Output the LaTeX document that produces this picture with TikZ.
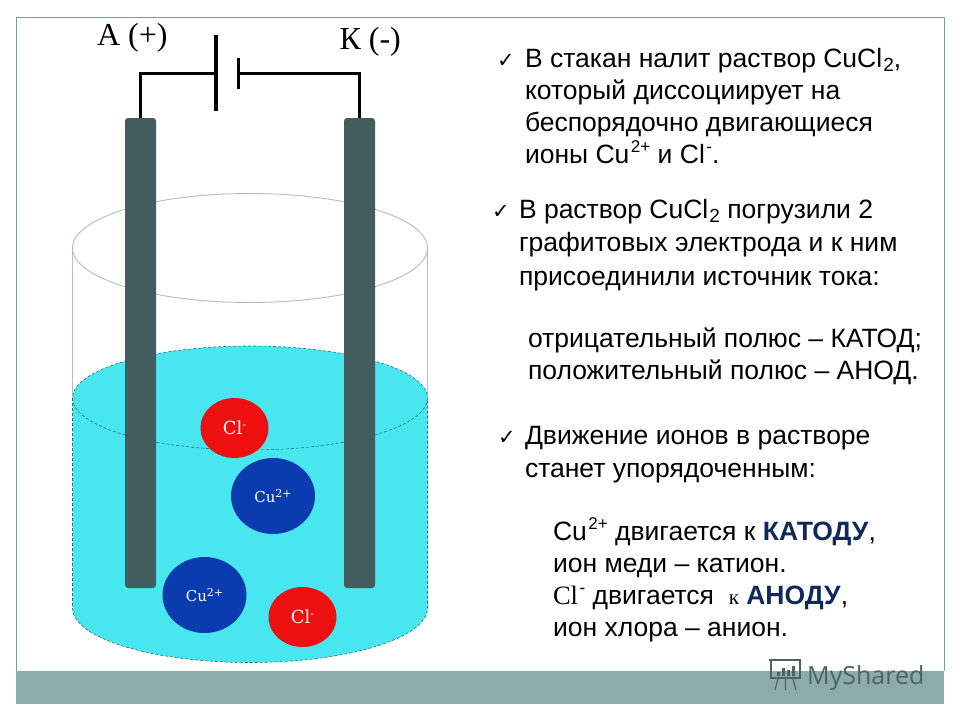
\documentclass[tikz,border=0pt]{standalone}
\usepackage{fontspec}
\setmainfont{Liberation Sans}
\newfontfamily\serifrm{Liberation Serif}
\newfontfamily\ionfont{DejaVu Serif}
\newfontfamily\tickfont{DejaVu Sans}
\newfontfamily\markfont{Open Sans}
\usetikzlibrary{shapes.geometric}
\definecolor{barc}{HTML}{8CABAB}
\definecolor{framec}{HTML}{7F9A9A}
\definecolor{water}{HTML}{48E6EE}
\definecolor{waterline}{HTML}{2F6F78}
\definecolor{elec}{HTML}{435C5E}
\definecolor{ionred}{HTML}{EE1010}
\definecolor{ionblue}{HTML}{0A3CB0}
\definecolor{navy}{HTML}{0F2A5A}
\definecolor{glass}{HTML}{B4BCBC}
\definecolor{wm}{HTML}{4F6264}
\newcommand{\upp}[1]{\kern1.5pt\raisebox{.38em}{\fontsize{17}{17}\selectfont #1}}
\newcommand{\dwn}[1]{\kern1pt\raisebox{-.18em}{\fontsize{19}{19}\selectfont #1}}
\tikzset{
  txt/.style={anchor=base west,inner sep=0pt,outer sep=0pt,text=black,font=\fontsize{26.5}{26.5}\selectfont},
  tick/.style={anchor=base west,inner sep=0pt,outer sep=0pt,text=black,font=\tickfont\bfseries\fontsize{21}{21}\selectfont},
  pole/.style={anchor=base west,inner sep=0pt,outer sep=0pt,text=black,font=\serifrm\fontsize{32}{32}\selectfont},
  electrode/.style={draw=none,fill=elec,rectangle,rounded corners=3pt,minimum width=31pt,minimum height=470pt,inner sep=0pt},
  redion/.style={ellipse,fill=ionred,text=white,minimum width=68pt,minimum height=60pt,inner sep=0pt,font=\ionfont\fontsize{18}{18}\selectfont},
  blueion/.style={ellipse,fill=ionblue,text=white,minimum width=84pt,minimum height=76pt,inner sep=0pt,font=\ionfont\fontsize{15}{15}\selectfont},
  wire/.style={draw=black,line width=3pt},
  plate/.style={draw=black,line width=3.2pt},
  glassline/.style={draw=glass,line width=.9pt},
  waterdash/.style={draw=waterline,line width=.6pt,densely dashed},
}
\begin{document}
\begin{tikzpicture}[x=1pt,y=-1pt]
\useasboundingbox (0,0) rectangle (960,720);
\fill[white] (0,0) rectangle (960,720);
% slide
\draw[framec,line width=1pt] (16.5,671) -- (16.5,17.5) -- (944,17.5) -- (944,671);
\fill[barc] (16,671) rectangle (944,704);
% water
\fill[water] (72.5,398) -- (72.5,608) arc[start angle=180,end angle=0,x radius=177.5,y radius=54.5] -- (427.5,398) -- cycle;
\fill[water] (250,398) ellipse[x radius=177.5,y radius=52];
\draw[waterdash] (250,398) ellipse[x radius=177.5,y radius=52];
\draw[waterdash] (72.5,398) -- (72.5,608) arc[start angle=180,end angle=0,x radius=177.5,y radius=54.5] -- (427.5,398);
% glass
\draw[glassline] (250,248) ellipse[x radius=177.5,y radius=54.5];
\draw[glassline] (72.5,248) -- (72.5,398) (427.5,248) -- (427.5,398);
% electrodes
\node[electrode] (anode) at (140.5,353) {};
\node[electrode] (cathode) at (359.5,353) {};
% battery
\coordinate (plA) at (216,73);
\coordinate (plAt) at (216,35);
\coordinate (plAb) at (216,111);
\coordinate (plK) at (238.5,73);
\coordinate (plKt) at (238.5,58);
\coordinate (plKb) at (238.5,89);
\draw[plate] (plAt) -- (plAb);
\draw[plate] (plKt) -- (plKb);
\draw[wire] (anode.north) |- (plA);
\draw[wire] (cathode.north) |- (plK);
% ions
\node[redion] (cl1) at (234.5,428) {Cl\raisebox{.35em}{\fontsize{11}{11}\selectfont -}};
\node[blueion] (cu1) at (273,496) {Cu\raisebox{.35em}{\fontsize{11}{11}\selectfont 2+}};
\node[blueion] (cu2) at (204.5,595) {Cu\raisebox{.35em}{\fontsize{11}{11}\selectfont 2+}};
\node[redion] (cl2) at (302.5,617) {Cl\raisebox{.35em}{\fontsize{11}{11}\selectfont -}};
% poles
\node[pole] (lA) at (97,45) {А (+)};
\node[pole] (lK) at (339.5,49) {К (-)};
% text block 1
\node[tick] (t1) at (497,67) {✓};
\node[txt] (a1) at (525,67) {В стакан налит раствор CuCl\dwn{2},};
\node[txt] (a2) at (525,99) {который диссоциирует на};
\node[txt] (a3) at (525,131) {беспорядочно двигающиеся};
\node[txt] (a4) at (525,163) {ионы Cu\upp{2+} и Cl\upp{-}.};
% text block 2
\node[tick] (t2) at (492,218) {✓};
\node[txt] (b1) at (519,218) {В раствор CuCl\dwn{2} погрузили 2};
\node[txt] (b2) at (519,251) {графитовых электрода и к ним};
\node[txt] (b3) at (519,285) {присоединили источник тока:};
\node[txt] (c1) at (528,347) {отрицательный полюс – КАТОД;};
\node[txt] (c2) at (528,379) {положительный полюс – АНОД.};
% text block 3
\node[tick] (t3) at (498,444) {✓};
\node[txt] (d1) at (525,444) {Движение ионов в растворе};
\node[txt] (d2) at (525,477) {станет упорядоченным:};
\node[txt] (e1) at (553,540) {Cu\upp{2+} двигается к \textcolor{navy}{\textbf{КАТОДУ}},};
\node[txt] (e2) at (553,572) {ион меди – катион.};
\node[txt] (e3) at (553,604) {{\serifrm Cl}\upp{-} двигается \ {\serifrm\fontsize{21}{21}\selectfont к} \textcolor{navy}{\textbf{АНОДУ}},};
\node[txt] (e4) at (553,636) {ион хлора – анион.};
% watermark
\node[anchor=base west,inner sep=0pt,text=wm,font=\markfont\fontsize{25}{25}\selectfont] (ms) at (807,684) {MyShared};
\draw[wm,line width=1.2pt] (771,660.5) rectangle (800,678);
\draw[wm,line width=1.2pt] (769,660) -- (801,660);
\fill[wm] (777,672) rectangle (780,676) (782,668) rectangle (785,676) (787,670) rectangle (790,676) (792,666) rectangle (795,676);
\draw[wm,line width=1.2pt] (778,679) -- (775,690) (793,679) -- (796,690) (785.5,679) -- (785.5,690);
\end{tikzpicture}
\end{document}
